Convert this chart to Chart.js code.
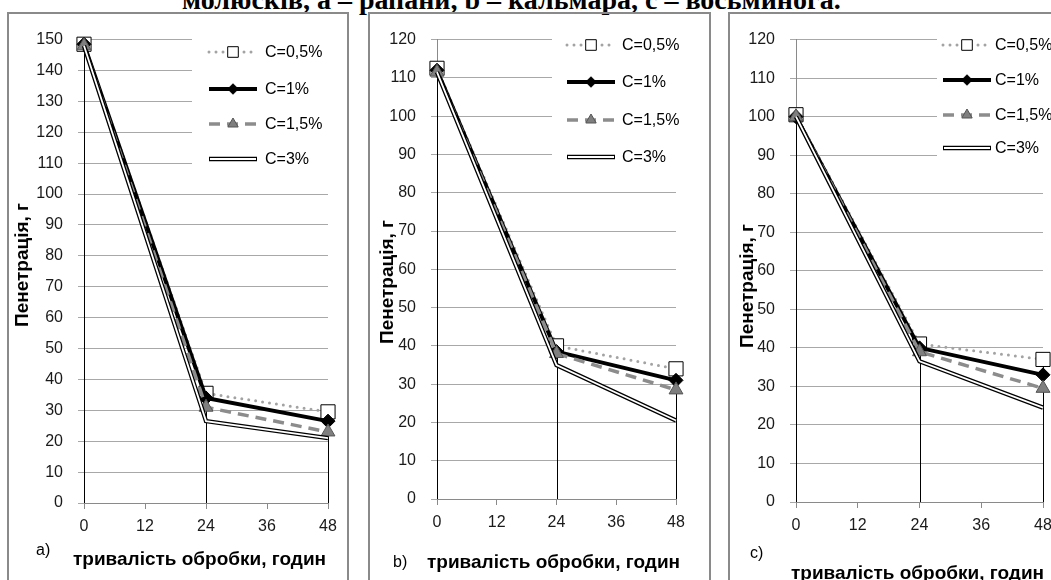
<!DOCTYPE html>
<html>
<head>
<meta charset="utf-8">
<script src="https://cdn.jsdelivr.net/npm/chart.js@4.4.0/dist/chart.umd.min.js"></script>
<style>
  body { margin: 0; width: 1051px; height: 580px; overflow: hidden; background: #fff; position: relative; font-family: "Liberation Sans", Arial, sans-serif; }
  .panel { position: absolute; top: 12px; height: 620px; border: 2px solid #8a8a8a; box-sizing: border-box; }
  canvas { position: absolute; }
  .txt { position: absolute; white-space: nowrap; color: #000; }
  .caption { font-family: "Liberation Serif", "Times New Roman", serif; font-weight: bold; font-size: 28px; line-height: 28px; top: -14px; left: 182px; }
  .xt { font-weight: bold; font-size: 19px; line-height: 22px; }
  .lab { font-size: 16px; line-height: 20px; }
  .yt { font-weight: bold; font-size: 19px; line-height: 22px; transform: translate(-50%, -50%) rotate(-90deg); }
</style>
</head>
<body>
<div class="txt caption">молюсків, а – рапани, b – кальмара, с – восьминога.</div>

<div class="panel" style="left:7px; width:342px;"></div>
<div class="panel" style="left:368px; width:343px;"></div>
<div class="panel" style="left:728px; width:360px;"></div>

<canvas id="chartA" width="335" height="565" style="left:10px; top:15px;"></canvas>
<canvas id="chartB" width="337" height="565" style="left:371px; top:15px;"></canvas>
<canvas id="chartC" width="340" height="565" style="left:731px; top:15px;"></canvas>

<div class="txt yt" style="left:22px; top:265px;">Пенетрація, г</div>
<div class="txt yt" style="left:387px; top:282px;">Пенетрація, г</div>
<div class="txt yt" style="left:747px; top:286px;">Пенетрація, г</div>

<div class="txt lab" style="left:36px; top:540px;">а)</div>
<div class="txt xt" style="left:73px; top:548px;">тривалість обробки, годин</div>
<div class="txt lab" style="left:393px; top:552px;">b)</div>
<div class="txt xt" style="left:427px; top:551px;">тривалість обробки, годин</div>
<div class="txt lab" style="left:750px; top:543px;">c)</div>
<div class="txt xt" style="left:791px; top:562px;">тривалість обробки, годин</div>

<script>
// тривалість обробки, годин
const hours = [0, 24, 48];
const xTicks = [0, 12, 24, 36, 48];
const seriesNames = ["C=0,5%", "C=1%", "C=1,5%", "C=3%"];

// a) рапана
const rapanaC05 = [148.5, 35.5, 29.5];
const rapanaC1 = [148.5, 34, 26.5];
const rapanaC15 = [148, 31, 23];
const rapanaC3 = [148, 26.5, 21];

// b) кальмар
const squidC05 = [112.5, 40, 34];
const squidC1 = [112, 38.5, 31];
const squidC15 = [111.5, 38, 28.5];
const squidC3 = [111.5, 35, 20.5];

// c) восьминіг
const octopusC05 = [100.5, 41, 37];
const octopusC1 = [100, 40, 33];
const octopusC15 = [100, 39, 29.5];
const octopusC3 = [100, 36.5, 24.5];

const tickFont = { family: "Liberation Sans", size: 16 };

// стилі серій (як в Excel)
const styles = [
  { borderColor: "#a3a3a3", borderWidth: 3, borderDash: [0, 7], borderCapStyle: "round",
    pointStyle: "rect", pointRadius: 10, pointBackgroundColor: "#fff", pointBorderColor: "#000", pointBorderWidth: 1, order: 4 },
  { borderColor: "#000", borderWidth: 4, pointStyle: "rectRot", pointRadius: 7,
    pointBackgroundColor: "#000", pointBorderColor: "#000", pointBorderWidth: 1, order: 3 },
  { borderColor: "#8c8c8c", borderWidth: 3.5, borderDash: [11, 7],
    pointStyle: "triangle", pointRadius: 8, pointBackgroundColor: "#7f7f7f", pointBorderColor: "#555", pointBorderWidth: 1, order: 2 },
  { borderColor: "#000", borderWidth: 4.4, pointRadius: 0, order: 1 },
];

function toPoints(values) {
  return hours.map((h, i) => ({ x: h, y: values[i] }));
}

// вертикальні лінії від максимуму до осі
const dropLines = {
  id: "dropLines",
  beforeDatasetsDraw(chart) {
    const ctx = chart.ctx;
    const xs = chart.scales.x, ys = chart.scales.y;
    ctx.save();
    ctx.strokeStyle = "#000";
    ctx.lineWidth = 1;
    hours.forEach((h, i) => {
      let max = 0;
      chart.data.datasets.forEach((ds) => { max = Math.max(max, ds.data[i].y); });
      const px = Math.round(xs.getPixelForValue(h)) + 0.5;
      ctx.beginPath();
      ctx.moveTo(px, ys.getPixelForValue(max));
      ctx.lineTo(px, ys.getPixelForValue(0));
      ctx.stroke();
    });
    ctx.restore();
  },
};

// легенда всередині області графіка
const boxLegend = {
  id: "boxLegend",
  afterDatasetsDraw(chart, args, opts) {
    const ctx = chart.ctx;
    ctx.save();
    ctx.fillStyle = "#fff";
    ctx.fillRect(opts.left, opts.top, opts.width, opts.height);
    seriesNames.forEach((name, i) => {
      const st = styles[i];
      const y = opts.rows[i];
      const x0 = opts.lineX, x1 = opts.lineX + opts.lineLen;
      ctx.save();
      ctx.strokeStyle = st.borderColor;
      ctx.lineWidth = st.borderWidth;
      ctx.lineCap = st.borderCapStyle || "butt";
      ctx.setLineDash(st.borderDash || []);
      ctx.beginPath(); ctx.moveTo(x0, y); ctx.lineTo(x1, y); ctx.stroke();
      if (i === 3) {
        ctx.strokeStyle = "#fff"; ctx.lineWidth = 1.8;
        ctx.beginPath(); ctx.moveTo(x0 + 1, y); ctx.lineTo(x1 - 1, y); ctx.stroke();
      }
      ctx.restore();
      if (st.pointRadius) {
        ctx.save();
        ctx.fillStyle = st.pointBackgroundColor;
        ctx.strokeStyle = st.pointBorderColor;
        ctx.lineWidth = st.pointBorderWidth;
        Chart.helpers.drawPoint(ctx, { pointStyle: st.pointStyle, radius: st.pointRadius * 0.75, rotation: 0, borderWidth: 1 }, (x0 + x1) / 2, y);
        ctx.restore();
      }
      ctx.fillStyle = "#000";
      ctx.font = "16px 'Liberation Sans', Arial, sans-serif";
      ctx.textBaseline = "middle";
      ctx.fillText(name, opts.textX, y + 1);
    });
    ctx.restore();
  },
};

function makeChart(id, yMax, series, pad, xHeight, legendOpts) {
  const datasets = series.map((vals, i) => Object.assign({
    label: seriesNames[i], data: toPoints(vals), tension: 0, clip: false,
    backgroundColor: "transparent",
  }, styles[i]));
  // внутрішня біла лінія для подвійної лінії C=3%
  datasets.push({
    label: "C=3% inner", data: toPoints(series[3]), borderColor: "#fff", borderWidth: 1.8,
    pointRadius: 0, tension: 0, clip: false, order: 0, backgroundColor: "transparent",
  });
  return new Chart(document.getElementById(id), {
    type: "line",
    data: { datasets },
    plugins: [dropLines, boxLegend],
    options: {
      responsive: false,
      animation: false,
      events: [],
      layout: { padding: pad },
      plugins: { legend: { display: false }, tooltip: { enabled: false }, boxLegend: legendOpts },
      scales: {
        x: {
          type: "linear", min: 0, max: 48,
          afterBuildTicks: (s) => { s.ticks = xTicks.map((v) => ({ value: v })); },
          ticks: { font: tickFont, color: "#1a1a1a", padding: 8 },
          grid: { drawOnChartArea: false, tickLength: 6, color: "#8a8a8a" },
          border: { color: "#8a8a8a" },
          afterFit: (s) => { s.height = xHeight; },
        },
        y: {
          min: 0, max: yMax,
          ticks: { stepSize: 10, font: tickFont, color: "#1a1a1a", padding: 15 },
          grid: { color: "#a8a8a8", tickLength: 6 },
          border: { color: "#8a8a8a" },
          afterFit: (s) => { s.width = 60; },
        },
      },
    },
  });
}

makeChart("chartA", 150, [rapanaC05, rapanaC1, rapanaC15, rapanaC3],
  { left: 14, top: 15, right: 17, bottom: 0 }, 77,
  { left: 182, top: 10, width: 160, height: 150, lineX: 199, lineLen: 48, textX: 255, rows: [37, 74, 109, 144] });

makeChart("chartB", 120, [squidC05, squidC1, squidC15, squidC3],
  { left: 6, top: 15, right: 32, bottom: 0 }, 81,
  { left: 181, top: 10, width: 160, height: 148, lineX: 196, lineLen: 48, textX: 251, rows: [30, 67, 105, 142] });

makeChart("chartC", 120, [octopusC05, octopusC1, octopusC15, octopusC3],
  { left: 5, top: 13, right: 28, bottom: 0 }, 78,
  { left: 206, top: 10, width: 160, height: 145, lineX: 212, lineLen: 48, textX: 264, rows: [30, 65, 100, 133] });
</script>
</body>
</html>
